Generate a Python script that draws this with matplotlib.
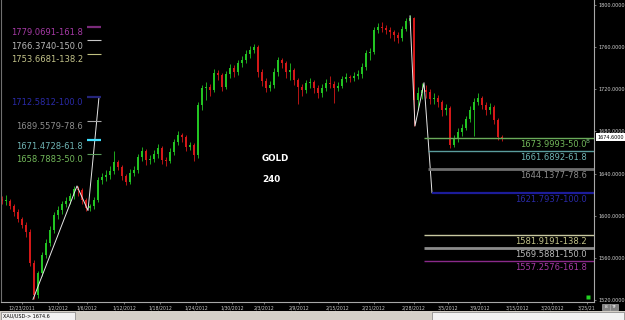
"""GOLD 240-minute chart with Fibonacci extension levels, dark terminal style."""

import matplotlib

matplotlib.use("Agg")
import matplotlib.pyplot as plt  # noqa: E402
import matplotlib.transforms as mtransforms  # noqa: E402
import numpy as np  # noqa: E402
from matplotlib import font_manager  # noqa: E402
from matplotlib.patches import Rectangle  # noqa: E402

# --- data ------------------------------------------------------------------
first_open = 1616.0
closes = [
    1614.0, 1614.0, 1609.3, 1603.6, 1597.0, 1591.3, 1584.6, 1555.2, 1524.8, 1545.7,
    1562.8, 1574.2, 1586.5, 1600.7, 1605.5, 1611.2, 1614.0, 1618.8, 1625.4, 1624.5,
    1615.0, 1607.4, 1609.0, 1615.0, 1634.0, 1636.8, 1638.7, 1642.5, 1651.0, 1646.3,
    1637.7, 1632.1, 1640.6, 1643.4, 1655.8, 1661.5, 1653.0, 1653.9, 1658.6, 1664.3,
    1653.0, 1652.0, 1660.5, 1670.0, 1676.6, 1674.7, 1665.3, 1667.0, 1657.7, 1705.1,
    1721.2, 1722.2, 1719.4, 1735.5, 1733.6, 1722.2, 1734.5, 1740.2, 1736.4, 1744.9,
    1747.8, 1753.5, 1757.3, 1760.1, 1736.4, 1727.9, 1721.2, 1724.0, 1736.4, 1747.8,
    1744.9, 1736.4, 1738.3, 1728.8, 1722.2, 1719.4, 1726.0, 1726.9, 1721.2, 1716.5,
    1721.2, 1726.0, 1725.0, 1721.2, 1723.5, 1729.8, 1731.7, 1730.5, 1732.6, 1734.5,
    1741.2, 1754.5, 1755.4, 1776.3, 1779.1, 1778.2, 1776.0, 1774.4, 1771.5, 1768.7,
    1777.2, 1784.8, 1787.7, 1709.9, 1716.5, 1719.4, 1717.5, 1710.8, 1711.8, 1708.0,
    1700.4, 1702.0, 1667.2, 1673.8, 1679.5, 1683.3, 1691.8, 1700.4, 1708.0, 1711.8,
    1705.1, 1700.4, 1703.2, 1690.9, 1674.7, 1673.8,
]
highs = [
    1619, 1620, 1616, 1611, 1606, 1599, 1594, 1587, 1558, 1548,
    1566, 1578, 1590, 1604, 1609, 1614, 1618, 1622, 1628.3, 1628,
    1626, 1617, 1611, 1618, 1637, 1641, 1643, 1647, 1661, 1653,
    1648, 1640, 1644, 1647, 1659, 1665, 1663, 1658, 1662, 1668,
    1666, 1656, 1664, 1673, 1680, 1679, 1677, 1670, 1669, 1708,
    1724, 1727, 1725, 1739, 1738, 1735, 1737, 1744, 1743, 1748,
    1752, 1757, 1761, 1763, 1762, 1739, 1731, 1728, 1740, 1751,
    1750, 1747, 1745, 1740, 1731, 1725, 1729, 1731, 1729, 1724,
    1725, 1730, 1733, 1728, 1727, 1733, 1735, 1734, 1736, 1738,
    1745, 1757, 1759, 1779, 1783, 1784, 1781, 1779, 1776, 1774,
    1780, 1788, 1790.5, 1789, 1722, 1726.2, 1724, 1720, 1716, 1715,
    1710, 1706, 1704, 1677, 1683, 1687, 1695, 1704, 1712, 1716,
    1714, 1708, 1707, 1705, 1693, 1677,
]
lows = [
    1611, 1610, 1606, 1600, 1594, 1588, 1580, 1552, 1520.7, 1522,
    1543, 1560, 1571, 1584, 1597, 1602, 1608, 1611, 1616, 1619,
    1611, 1605, 1605, 1606, 1613, 1630, 1633, 1635, 1640, 1643,
    1634, 1629, 1630, 1638, 1641, 1652, 1648, 1649, 1651, 1655,
    1649, 1647, 1650, 1658, 1667, 1670, 1661, 1662, 1652, 1655,
    1700, 1710, 1714, 1717, 1729, 1718, 1720, 1731, 1732, 1734,
    1741, 1745, 1750, 1754, 1732, 1723, 1717, 1718, 1721, 1733,
    1740, 1731, 1729, 1724, 1706, 1714, 1716, 1721, 1716, 1712,
    1713, 1718, 1721, 1707, 1718, 1721, 1727, 1727, 1728, 1730,
    1731, 1738, 1748, 1753, 1773, 1774, 1772, 1769, 1766, 1764,
    1766, 1775, 1782, 1685.2, 1700, 1711, 1712, 1706, 1706, 1703,
    1695, 1696, 1664.5, 1665, 1670, 1676, 1681, 1689, 1676, 1705,
    1701, 1696, 1697, 1687, 1672, 1671,
]
last_price = 1674.6

tick_bars = [5, 14, 21.25, 30.5, 39.5, 48.5, 57.5, 65.5, 74.25, 84, 93, 103,
             111.5, 119.5, 128.75, 137.5, 146.25]
tick_labels = ["12/23/2011", "1/2/2012", "1/6/2012", "1/12/2012", "1/18/2012",
               "1/24/2012", "1/30/2012", "2/3/2012", "2/9/2012", "2/15/2012",
               "2/21/2012", "2/28/2012", "3/5/2012", "3/9/2012", "3/15/2012",
               "3/20/2012", "3/25/21"]

left_fib_values = [1779.0691, 1766.3740, 1753.6681, 1712.5812, 1689.5579, 1671.4728, 1658.7883]
left_fib_pcts = ["161.8", "150.0", "138.2", "100.0", "78.6", "61.8", "50.0"]
right_fib_values = [1673.9993, 1661.6892, 1644.1377, 1621.7937, 1581.9191, 1569.5881, 1557.2576]
right_fib_pcts = ["50.0", "61.8", "78.6", "100.0", "138.2", "150.0", "161.8"]

left_zig_bars = [7.75, 18.75, 21.5, 24.25]
left_zig_prices = [1520.7, 1628.3, 1605.0, 1712.58]
right_zig_bars = [102, 103.25, 105.5, 107.5]
right_zig_prices = [1789.6, 1685.2, 1726.2, 1621.79]

# --- styles -----------------------------------------------------------------
UP, DOWN = "#22c422", "#d41818"
PCT_COLOR = {
    "161.8": ("#a63aa6", "#8a2a8a"),
    "150.0": ("#b8b8b8", "#8c8c8c"),
    "138.2": ("#c4c48a", "#c8c8a0"),
    "100.0": ("#2a2aa8", "#1c1c9a"),
    "78.6": ("#8c8c8c", "#6e6e6e"),
    "61.8": ("#6fb4b4", "#5a9c9c"),
    "50.0": ("#72b85a", "#6aaa5a"),
}
LEFT_LINE = {"161.8": ("#7a2a7a", 1.6), "150.0": ("#c8c8c8", 0.8), "138.2": ("#c0c080", 0.8),
             "100.0": ("#24247a", 1.6), "78.6": ("#a8a8a8", 0.8), "61.8": ("#40e0ff", 1.6),
             "50.0": ("#5a9a5a", 0.8)}
RIGHT_LINE = {"50.0": (105.5, 1.0), "61.8": (106.5, 1.0), "78.6": (106.5, 2.0),
              "100.0": (107.5, 1.6), "138.2": (105.5, 1.0), "150.0": (105.5, 2.0),
              "161.8": (105.5, 1.0)}

names = {f.name for f in font_manager.fontManager.ttflist}
if "Liberation Sans Narrow" in names:
    FIB_FONT, FIB_SIZE = "Liberation Sans Narrow", 7.6
else:
    FIB_FONT, FIB_SIZE = "DejaVu Sans", 6.0

plt.rcParams.update({"font.family": "DejaVu Sans"})

fig = plt.figure(figsize=(6.25, 3.2), dpi=100, facecolor="black")
ax = fig.add_axes([1 / 625, 18 / 320, 593 / 625, 302 / 320])
ax.set_facecolor("black")

# candles
c = np.array(closes)
o = np.array([first_open] + closes[:-1])
x = np.arange(len(c))
col = np.where(c >= o, UP, DOWN)
ax.vlines(x, lows, highs, colors=col, linewidth=0.6)
ax.bar(x, np.maximum(np.abs(c - o), 0.8), bottom=np.minimum(o, c), width=0.7,
       color=col, linewidth=0)

# zigzags
ax.plot(left_zig_bars, left_zig_prices, color="#e6e6e6", lw=0.7)
ax.plot(right_zig_bars, right_zig_prices, color="#e6e6e6", lw=0.7)

# left fib levels
for v, p in zip(left_fib_values, left_fib_pcts):
    lc, lw = LEFT_LINE[p]
    ax.hlines(v, 21.25, 24.75, colors=lc, lw=lw)
    ax.annotate(f"{v:.4f}-{p}", (20.25, v), xytext=(0, -0.8), textcoords="offset points",
                ha="right", va="top", color=PCT_COLOR[p][0], fontsize=FIB_SIZE,
                family=FIB_FONT)

# right fib levels
for v, p in zip(right_fib_values, right_fib_pcts):
    start, lw = RIGHT_LINE[p]
    ax.hlines(v, start, 148, colors=PCT_COLOR[p][1], lw=lw)
    ax.annotate(f"{v:.4f}-{p}", (146.25, v), xytext=(0, -1.3), textcoords="offset points",
                ha="right", va="top", color=PCT_COLOR[p][0], fontsize=FIB_SIZE,
                family=FIB_FONT)

ax.text(145.9, 1670.5, "8", color="#80c880", fontsize=4.5, ha="left", va="center")
ax.plot([146.6], [1522.8], marker="s", ms=3.2, color="#22d022", mec="none", clip_on=False)

ax.text(65, 1654.4, "GOLD", color="white", fontsize=6.3, fontweight="bold", va="center")
ax.text(65, 1634.4, "240", color="white", fontsize=6.3, fontweight="bold", va="center")

ax.set_xlim(-0.25, 148)
ax.set_ylim(1518.2, 1804.7)

# axes look
for s in ("top",):
    ax.spines[s].set_visible(False)
ax.spines["left"].set_color("#707070")
ax.spines["right"].set_color("#a8a8a8")
ax.spines["bottom"].set_color("#a8a8a8")
for s in ("left", "right", "bottom"):
    ax.spines[s].set_linewidth(0.8)

ax.yaxis.tick_right()
ax.set_yticks(np.arange(1520, 1801, 40))
ax.yaxis.set_major_formatter(lambda v, _: f"{v:.4f}")
ax.tick_params(axis="y", labelsize=3.5, labelcolor="#d0d0d0", color="#a0a0a0",
               length=1.5, width=0.5, pad=1.5)
ax.set_xticks(tick_bars, tick_labels)
ax.tick_params(axis="x", labelsize=3.3, labelcolor="#c8c8c8", color="#a0a0a0",
               length=1.2, width=0.5, pad=1.2)

blend = mtransforms.blended_transform_factory(ax.transAxes, ax.transData)
ax.text(1.006, last_price, "1674.6000", transform=blend, ha="left", va="center",
        fontsize=3.5, color="black", clip_on=False,
        bbox=dict(boxstyle="square,pad=0.25", fc="white", ec="none"))

# status bar at the bottom
fig.patches.append(Rectangle((0, 0), 1, 9 / 320, transform=fig.transFigure,
                             fc="#d4d0c8", ec="none"))
fig.patches.append(Rectangle((1 / 625, 0.5 / 320), 74 / 625, 7.5 / 320,
                             transform=fig.transFigure, fc="#f2f2f2", ec="#808080", lw=0.5))
fig.patches.append(Rectangle((432 / 625, 0.5 / 320), 192 / 625, 7.5 / 320,
                             transform=fig.transFigure, fc="#f2f2f2", ec="#808080", lw=0.5))
fig.text(3 / 625, 4.5 / 320, "XAU/USD-> 1674.6", fontsize=3.5, color="black", va="center")
for bx, label in [(602, "8"), (610, "TF")]:
    fig.patches.append(Rectangle((bx / 625, 10.5 / 320), 7.5 / 625, 6 / 320,
                                 transform=fig.transFigure, fc="#808080", ec="#c0c0c0", lw=0.4))
    fig.text((bx + 3.75) / 625, 13.5 / 320, label, fontsize=3.2, color="white",
             ha="center", va="center")

fig.savefig("out.png", dpi=100, facecolor="black")
